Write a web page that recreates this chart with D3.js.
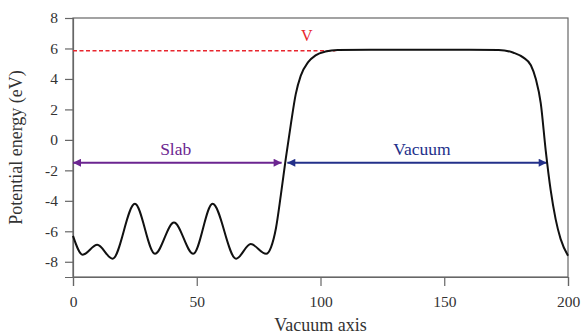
<!DOCTYPE html>
<html><head><meta charset="utf-8">
<script src="https://cdn.jsdelivr.net/npm/d3@7"></script>
<style>body{margin:0;background:#fff}svg{display:block}</style>
</head><body><div id="chart"></div>
<script>
// Potential energy profile along the vacuum axis
const xValues = [0, 3.9, 9.8, 16, 25, 33.1, 40.8, 48.6, 56.4, 65.9, 71.8, 78, 80, 82, 84, 86, 88, 90, 92, 95, 98, 102, 107, 120, 140, 160, 172, 178, 182, 185, 187, 189, 191, 193, 195, 197, 200];
const energyValues = [-6.3, -7.54, -6.89, -7.8, -4.2, -7.48, -5.42, -7.48, -4.2, -7.8, -6.84, -7.48, -7.05, -5.8, -3.6, -1.2, 1.0, 3.0, 4.2, 5.1, 5.55, 5.8, 5.9, 5.92, 5.92, 5.92, 5.9, 5.72, 5.4, 4.9, 4.0, 2.4, -0.7, -3.3, -5.2, -6.5, -7.6];
const vacuumLevel = 5.85;
const vacuumLevelEnd = 106;
const slabRange = [0, 84.3];
const vacuumRange = [86.6, 191.4];
const arrowLevel = -1.5;
const xTicks = [0, 50, 100, 150, 200];
const yTicks = [-8, -6, -4, -2, 0, 2, 4, 6, 8];

const W = 583, H = 336;
const m = {l: 73, r: 15, t: 18, b: 59};
const svg = d3.select("#chart").append("svg").attr("width", W).attr("height", H);
const x = d3.scaleLinear().domain([0, 200]).range([m.l, W - m.r]);
const y = d3.scaleLinear().domain([-9, 8]).range([H - m.b, m.t]);
const font = "'Liberation Serif', 'Times New Roman', serif";
const axisCol = "#666";

// frame
svg.append("rect").attr("x", x(0)).attr("y", y(8)).attr("width", x(200) - x(0)).attr("height", y(-9) - y(8))
  .attr("fill", "none").attr("stroke", axisCol).attr("stroke-width", 1.2);

const gx = svg.append("g").attr("transform", `translate(0,${y(-9)})`)
  .call(d3.axisBottom(x).tickValues(xTicks).tickSize(9).tickPadding(10).tickFormat(d3.format("d")));
const gy = svg.append("g").attr("transform", `translate(${x(0)},0)`)
  .call(d3.axisLeft(y).tickValues(yTicks).tickSize(8).tickPadding(7).tickFormat(d => d < 0 ? "-" + Math.abs(d) : d));
[gx, gy].forEach(g => {
  g.select(".domain").attr("stroke", axisCol).attr("stroke-width", 1.2);
  g.selectAll(".tick line").attr("stroke", axisCol).attr("stroke-width", 1.2);
  g.selectAll(".tick text").attr("font-family", font).attr("font-size", 15.5).attr("fill", "#333");
});

// axis titles
svg.append("text").attr("x", x(100)).attr("y", 331).attr("text-anchor", "middle")
  .attr("font-family", font).attr("font-size", 18).attr("fill", "#333").text("Vacuum axis");
svg.append("text").attr("transform", `translate(22,${(y(8) + y(-9)) / 2}) rotate(-90)`).attr("text-anchor", "middle")
  .attr("font-family", font).attr("font-size", 18).attr("fill", "#333").text("Potential energy (eV)");

// vacuum level dashed line
svg.append("line").attr("x1", x(0)).attr("x2", x(vacuumLevelEnd)).attr("y1", y(vacuumLevel)).attr("y2", y(vacuumLevel))
  .attr("stroke", "#e8262e").attr("stroke-width", 1.6).attr("stroke-dasharray", "4,2.5");
svg.append("text").attr("x", x(94.5)).attr("y", y(vacuumLevel) - 10).attr("text-anchor", "middle")
  .attr("font-family", font).attr("font-size", 16).attr("fill", "#e8262e").text("V");

// arrow markers
const defs = svg.append("defs");
function marker(id, color) {
  defs.append("marker").attr("id", id).attr("viewBox", "0 0 10 10").attr("refX", 10).attr("refY", 5)
    .attr("markerWidth", 9).attr("markerHeight", 8).attr("markerUnits", "userSpaceOnUse").attr("orient", "auto-start-reverse")
    .append("path").attr("d", "M0,0 L10,5 L0,10 Z").attr("fill", color);
}
const slabCol = "#6b2590", vacCol = "#23308a";
marker("aSlab", slabCol); marker("aVac", vacCol);
svg.append("line").attr("x1", x(slabRange[0])).attr("x2", x(slabRange[1])).attr("y1", y(arrowLevel)).attr("y2", y(arrowLevel))
  .attr("stroke", slabCol).attr("stroke-width", 1.8).attr("marker-start", "url(#aSlab)").attr("marker-end", "url(#aSlab)");
svg.append("line").attr("x1", x(vacuumRange[0])).attr("x2", x(vacuumRange[1])).attr("y1", y(arrowLevel)).attr("y2", y(arrowLevel))
  .attr("stroke", vacCol).attr("stroke-width", 1.8).attr("marker-start", "url(#aVac)").attr("marker-end", "url(#aVac)");
svg.append("text").attr("x", x(41.5)).attr("y", y(arrowLevel) - 8).attr("text-anchor", "middle")
  .attr("font-family", font).attr("font-size", 17.5).attr("fill", slabCol).text("Slab");
svg.append("text").attr("x", x(141)).attr("y", y(arrowLevel) - 8).attr("text-anchor", "middle")
  .attr("font-family", font).attr("font-size", 17.5).attr("fill", vacCol).text("Vacuum");

// potential curve
const data = xValues.map((v, i) => [v, energyValues[i]]);
svg.append("path").datum(data).attr("fill", "none").attr("stroke", "#111").attr("stroke-width", 2)
  .attr("d", d3.line().x(d => x(d[0])).y(d => y(d[1])).curve(d3.curveMonotoneX));
</script></body></html>
